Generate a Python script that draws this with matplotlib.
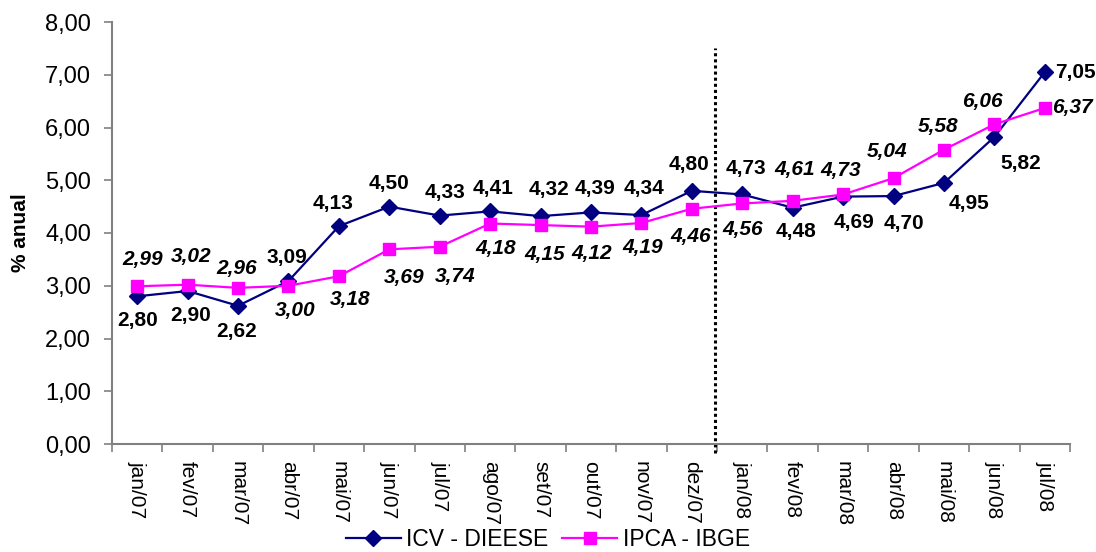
import matplotlib
matplotlib.use("Agg")
import matplotlib.pyplot as plt
import numpy as np

plt.rcParams['font.family'] = ['Liberation Sans', 'DejaVu Sans']

months = ["jan/07", "fev/07", "mar/07", "abr/07", "mai/07", "jun/07", "jul/07",
          "ago/07", "set/07", "out/07", "nov/07", "dez/07", "jan/08", "fev/08",
          "mar/08", "abr/08", "mai/08", "jun/08", "jul/08"]
icv = [2.80, 2.90, 2.62, 3.09, 4.13, 4.50, 4.33, 4.41, 4.32, 4.39, 4.34, 4.80,
       4.73, 4.48, 4.69, 4.70, 4.95, 5.82, 7.05]
ipca = [2.99, 3.02, 2.96, 3.00, 3.18, 3.69, 3.74, 4.18, 4.15, 4.12, 4.19, 4.46,
        4.56, 4.61, 4.73, 5.04, 5.58, 6.06, 6.37]
yticks = [0, 1, 2, 3, 4, 5, 6, 7, 8]

# label offsets in pixels (dx, dy); "R" means placed to the right of the point
icv_off = [(0, -24), (3, -24), (-1, -26), (-2, 24), (-6, 23), (0, 23), (5, 23),
           (3, 23), (8, 27), (4, 24), (3, 27), (-3, 26), (4, 26), (3, -24),
           (11, -26), (10, -27), (25, -21), (26, -27), "R"]
ipca_off = [(5, 27), (4, 28), (-1, 19), (7, -25), (11, -23), (15, -28), (15, -30),
            (5, -25), (4, -29), (1, -27), (1, -25), (-1, -28), (0, -26), (2, 31),
            (-2, 24), (-6, 27), (-6, 23), (-12, 23), "R"]

navy = "#000080"
magenta = "#FF00FF"
grey = "#808080"

fig = plt.figure(figsize=(10.96, 5.52), dpi=100)
ax = fig.add_axes([112/1096, 1 - 444/552, (1070-112)/1096, (444-22)/552])

x = np.arange(len(months))
ax.plot(x, icv, color=navy, lw=1.6, marker="D", markersize=8,
        markerfacecolor=navy, markeredgecolor=navy, label="ICV - DIEESE", zorder=3)
ax.plot(x, ipca, color=magenta, lw=1.6, marker="s", markersize=9,
        markerfacecolor=magenta, markeredgecolor=magenta, label="IPCA - IBGE", zorder=3)

def fmt(v):
    return f"{v:.2f}".replace(".", ",")

for xi, v, off in zip(x, icv, icv_off):
    if off == "R":
        ax.annotate(fmt(v), (xi, v), xytext=(10, 0), textcoords="offset pixels",
                    ha="left", va="center", fontsize=15, fontweight="bold",
                    annotation_clip=False)
    else:
        ax.annotate(fmt(v), (xi, v), xytext=off, textcoords="offset pixels",
                    ha="center", va="center", fontsize=15, fontweight="bold",
                    annotation_clip=False)

for xi, v, off in zip(x, ipca, ipca_off):
    if off == "R":
        ax.annotate(fmt(v), (xi, v), xytext=(7, 0), textcoords="offset pixels",
                    ha="left", va="center", fontsize=15, fontweight="bold",
                    fontstyle="italic", annotation_clip=False)
    else:
        ax.annotate(fmt(v), (xi, v), xytext=off, textcoords="offset pixels",
                    ha="center", va="center", fontsize=15, fontweight="bold",
                    fontstyle="italic", annotation_clip=False)

# dotted separator between the two years
ax.plot([11.45, 11.45], [-0.18, 7.5], color="black", lw=2.2,
        linestyle=(0, (1, 1)), clip_on=False, zorder=2)

ax.set_xlim(-0.5, len(months) - 0.5)
ax.set_ylim(0, 8)
ax.set_yticks(yticks)
ax.set_yticklabels([fmt(v) for v in yticks], fontsize=17)
ax.set_xticks(x)
ax.set_xticklabels(months, rotation=270, fontsize=15, ha="center", va="top")
ax.set_xticks(np.arange(-0.5, len(months)), minor=True)
ax.tick_params(axis="x", which="major", length=0, pad=12)
ax.tick_params(axis="x", which="minor", length=6, color=grey, width=1.2)
ax.tick_params(axis="y", length=6, color=grey, width=1.2, pad=9)

for s in ["top", "right"]:
    ax.spines[s].set_visible(False)
for s in ["left", "bottom"]:
    ax.spines[s].set_color(grey)
    ax.spines[s].set_linewidth(1.5)

ax.set_ylabel("% anual", fontsize=15, fontweight="bold")
ax.yaxis.set_label_coords((30 - 112) / 958, 0.5)

fig.legend(loc="center", bbox_to_anchor=(548/1096, 1 - 540/552), ncol=2,
           frameon=False, fontsize=16.5, handlelength=2.4, columnspacing=0.6,
           handletextpad=0.25, borderaxespad=0)

fig.savefig("out.png", dpi=100)
